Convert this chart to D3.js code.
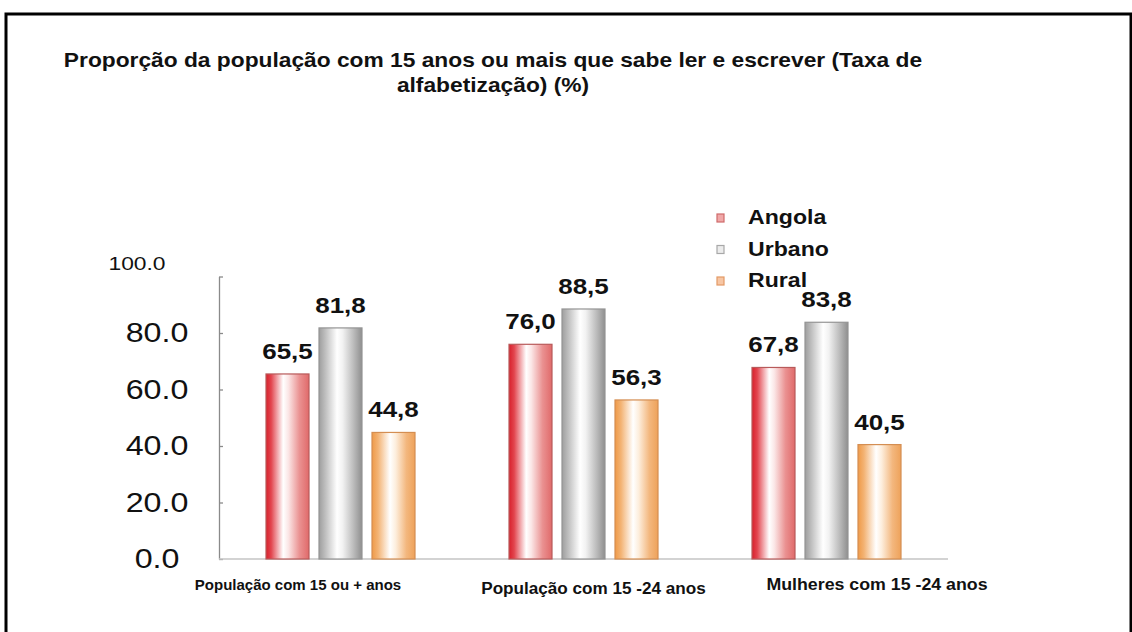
<!DOCTYPE html>
<html>
<head>
<meta charset="utf-8">
<script src="https://cdn.jsdelivr.net/npm/d3@7"></script>
<style>
  html, body { margin: 0; padding: 0; background: #fff; }
  svg { display: block; font-family: "Liberation Sans", Arial, sans-serif; }
</style>
</head>
<body>
<svg id="chart" width="1132" height="632"></svg>
<script>
// ---- data ----
const titleLines = ["Proporção da população com 15 anos ou mais que sabe ler e escrever (Taxa de", "alfabetização) (%)"];
const categories = ["População com 15 ou + anos", "População com 15 -24 anos", "Mulheres com 15 -24 anos"];
const seriesNames = ["Angola", "Urbano", "Rural"];
const angolaValues = [65.5, 76.0, 67.8];
const urbanoValues = [81.8, 88.5, 83.8];
const ruralValues = [44.8, 56.3, 40.5];
const yTicks = [0, 20, 40, 60, 80, 100];

const seriesValues = [angolaValues, urbanoValues, ruralValues];

// ---- layout ----
const svg = d3.select("#chart");
const plot = { left: 219, right: 948, top: 276.5, bottom: 559 };

function stretch(sel, k) {
  sel.each(function () {
    const w = this.getComputedTextLength();
    this.setAttribute("textLength", w * k);
    this.setAttribute("lengthAdjust", "spacingAndGlyphs");
  });
}

// frame
svg.append("rect")
  .attr("x", 6).attr("y", 14)
  .attr("width", 1125).attr("height", 660)
  .attr("fill", "none").attr("stroke", "#000").attr("stroke-width", 3);

// title
const title = svg.append("g");
title.selectAll("text").data(titleLines).join("text")
  .attr("x", 493)
  .attr("y", (d, i) => 67 + i * 25)
  .attr("text-anchor", "middle")
  .attr("font-size", 20.5).attr("font-weight", "bold").attr("fill", "#111")
  .text(d => d)
  .call(stretch, 1.11);

// scales
const x = d3.scaleBand().domain(categories).range([plot.left, plot.right]).padding(0);
const xIn = d3.scaleBand().domain(seriesNames).range([-74.5, 74.5]).paddingInner(10 / 53).paddingOuter(0);
const y = d3.scaleLinear().domain([0, 100]).range([plot.bottom, plot.top]);

// gradients
const defs = svg.append("defs");
const gradStops = {
  Angola: [["0%", "#d8202c"], ["12%", "#e2454e"], ["40%", "#ffffff"], ["52%", "#fbe6e6"], ["78%", "#ea9191"], ["100%", "#e06a6a"]],
  Urbano: [["0%", "#9e9e9e"], ["14%", "#bdbdbd"], ["42%", "#ffffff"], ["55%", "#f2f2f2"], ["80%", "#bcbcbc"], ["100%", "#8f8f8f"]],
  Rural:  [["0%", "#ef9a48"], ["14%", "#f3b374"], ["42%", "#ffffff"], ["55%", "#fdeedd"], ["80%", "#f3b77e"], ["100%", "#eea25a"]]
};
const strokeCol = { Angola: "#b85a5a", Urbano: "#949494", Rural: "#d48e52" };
seriesNames.forEach(s => {
  const g = defs.append("linearGradient").attr("id", "grad-" + s)
    .attr("x1", "0%").attr("x2", "100%").attr("y1", "0%").attr("y2", "0%");
  g.selectAll("stop").data(gradStops[s]).join("stop")
    .attr("offset", d => d[0]).attr("stop-color", d => d[1]);
});

// y axis
const yAxis = d3.axisLeft(y).tickValues(yTicks).tickSizeInner(-4).tickSizeOuter(0)
  .tickPadding(62).tickFormat(d3.format(".1f"));
const yg = svg.append("g").attr("transform", `translate(${plot.left},0)`).call(yAxis);
yg.select(".domain").attr("stroke", "#8a8a8a").attr("stroke-width", 1.3);
yg.selectAll(".tick line").attr("stroke", "#8a8a8a").attr("stroke-width", 1.3);
yg.selectAll(".tick text")
  .attr("text-anchor", "middle")
  .attr("font-family", "'Liberation Sans', Arial, sans-serif")
  .attr("font-size", 28).attr("fill", "#111")
  .call(stretch, 1.15);
yg.selectAll(".tick").filter(d => d === 100).select("text")
  .attr("font-size", 19).attr("x", -82).attr("dy", "-0.35em")
  .attr("textLength", null)
  .call(stretch, 1.2);

// baseline
svg.append("line")
  .attr("x1", plot.left).attr("x2", plot.right)
  .attr("y1", y(0)).attr("y2", y(0))
  .attr("stroke", "#c4c4c4").attr("stroke-width", 1.5);

// bars
const rows = [];
categories.forEach((c, ci) => seriesNames.forEach((s, si) => rows.push({ c, s, v: seriesValues[si][ci] })));

const barG = svg.append("g");
barG.selectAll("rect").data(rows).join("rect")
  .attr("x", d => x(d.c) + x.bandwidth() / 2 + xIn(d.s))
  .attr("y", d => y(d.v))
  .attr("width", xIn.bandwidth())
  .attr("height", d => y(0) - y(d.v))
  .attr("fill", d => `url(#grad-${d.s})`)
  .attr("stroke", d => strokeCol[d.s]).attr("stroke-width", 1.2);

const fmt = v => d3.format(".1f")(v).replace(".", ",");
barG.selectAll("text").data(rows).join("text")
  .attr("x", d => x(d.c) + x.bandwidth() / 2 + xIn(d.s) + xIn.bandwidth() / 2)
  .attr("y", d => y(d.v) - 15)
  .attr("text-anchor", "middle")
  .attr("font-size", 22).attr("font-weight", "bold").attr("fill", "#111")
  .text(d => fmt(d.v))
  .call(stretch, 1.18);

// category axis labels
const catStyle = [
  { dx: -42.5, y: 590, size: 15, k: 1.0 },
  { dx: 10, y: 594, size: 16, k: 1.07 },
  { dx: 50.5, y: 590, size: 16, k: 1.11 }
];
const xg = svg.append("g");
xg.selectAll("text").data(categories).join("text")
  .attr("x", (d, i) => x(d) + x.bandwidth() / 2 + catStyle[i].dx)
  .attr("y", (d, i) => catStyle[i].y)
  .attr("text-anchor", "middle")
  .attr("font-size", (d, i) => catStyle[i].size)
  .attr("font-weight", "bold").attr("fill", "#111")
  .text(d => d)
  .each(function (d, i) { stretch(d3.select(this), catStyle[i].k); });

// legend
const legFill = { Angola: "#f0a8a8", Urbano: "#ececec", Rural: "#f7c6a4" };
const legStroke = { Angola: "#cf6b6b", Urbano: "#a8a8a8", Rural: "#e39a66" };
const legY = d3.scalePoint().domain(seriesNames).range([224, 287]);
const leg = svg.append("g");
const li = leg.selectAll("g").data(seriesNames).join("g")
  .attr("transform", d => `translate(0,${legY(d)})`);
li.append("rect")
  .attr("x", 717).attr("y", -10).attr("width", 7).attr("height", 8)
  .attr("fill", d => legFill[d]).attr("stroke", d => legStroke[d]).attr("stroke-width", 1.2);
li.append("text")
  .attr("x", 748).attr("y", 0)
  .attr("font-size", 21).attr("font-weight", "bold").attr("fill", "#111")
  .text(d => d)
  .call(stretch, 1.1);
</script>
</body>
</html>
